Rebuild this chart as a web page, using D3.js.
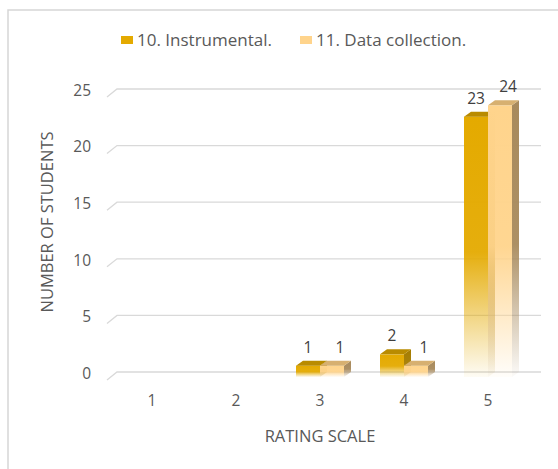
<!DOCTYPE html>
<html>
<head>
<meta charset="utf-8">
<script src="https://cdn.jsdelivr.net/npm/d3@7"></script>
<style>
  html, body { margin: 0; padding: 0; background: #fff; }
  svg { display: block; font-family: "Open Sans", sans-serif; }
</style>
</head>
<body>
<svg width="558" height="469"></svg>
<script>
// données du graphique
const categories = ["1", "2", "3", "4", "5"];
const instrumental = [0, 0, 1, 2, 23];
const dataCollection = [0, 0, 1, 1, 24];
const seriesNames = ["10. Instrumental.", "11. Data collection."];
const yTicks = [0, 5, 10, 15, 20, 25];

const svg = d3.select("svg");
const textColor = "#595959";

// couleurs : face avant, dessus, côté
const palette = [
  { front: "#E4AA00", top: "#B98B00", side: "#A57C00" },
  { front: "#FFD48C", top: "#D7B070", side: "#A88A5C" }
];

// cadre
svg.append("rect")
  .attr("x", 8).attr("y", 10)
  .attr("width", 600).attr("height", 500)
  .attr("fill", "none")
  .attr("stroke", "#d6d6d6")
  .attr("stroke-width", 1.5);

const x = d3.scaleBand().domain(categories).range([110, 530]).padding(0);
const y = d3.scaleLinear().domain([0, 25]).range([372, 89]);

const depth = { dx: 7, dy: 5 };     // profondeur des barres
const floor = { dx: 10, dy: 8 };    // profondeur du sol

// dégradés
const defs = svg.append("defs");
palette.forEach((p, i) => {
  [["front", p.front], ["side", p.side]].forEach(([k, c]) => {
    const g = defs.append("linearGradient")
      .attr("id", `g${i}${k}`)
      .attr("x1", 0).attr("y1", 0).attr("x2", 0).attr("y2", 1);
    g.append("stop").attr("offset", "0").attr("stop-color", c).attr("stop-opacity", 1);
    g.append("stop").attr("offset", "0.52").attr("stop-color", c).attr("stop-opacity", 0.95);
    g.append("stop").attr("offset", "1").attr("stop-color", c).attr("stop-opacity", 0.04);
  });
});

// grille
const grid = svg.append("g");
yTicks.forEach(t => {
  grid.append("path")
    .attr("d", `M${117 - floor.dx},${y(t) + floor.dy} L${117},${y(t)} L${541},${y(t)}`)
    .attr("fill", "none")
    .attr("stroke", "#d9d9d9")
    .attr("stroke-width", 1.3);
});

// axe Y
const yAxis = svg.append("g")
  .attr("transform", "translate(91,0)")
  .call(d3.axisLeft(y).tickValues(yTicks).tickSize(0).tickPadding(0));
yAxis.select(".domain").remove();
yAxis.selectAll("text")
  .attr("fill", textColor)
  .style("font-size", "15.5px")
  .style("font-family", "'Open Sans', sans-serif")
  .attr("dy", "0.4em");

// axe X
const xAxis = svg.append("g")
  .attr("transform", "translate(0,395)")
  .call(d3.axisBottom(x).tickSize(0).tickPadding(0));
xAxis.select(".domain").remove();
xAxis.selectAll("text")
  .attr("fill", textColor)
  .style("font-size", "15.5px")
  .style("font-family", "'Open Sans', sans-serif")
  .attr("dy", "0.71em");

// titres d'axes
svg.append("text")
  .attr("x", 320).attr("y", 442)
  .attr("text-anchor", "middle")
  .attr("fill", textColor)
  .style("font-size", "16.5px")
  .text("RATING SCALE");

svg.append("text")
  .attr("transform", "translate(53,222) rotate(-90)")
  .attr("text-anchor", "middle")
  .attr("fill", textColor)
  .style("font-size", "16.5px")
  .text("NUMBER OF STUDENTS");

// barres 3D
const barW = 24;
const allSeries = [instrumental, dataCollection];
const bars = svg.append("g");

allSeries.forEach((values, si) => {
  const p = palette[si];
  values.forEach((v, ci) => {
    if (v <= 0) return;
    const cx = x(categories[ci]) + x.bandwidth() / 2;
    const fx0 = cx - barW + si * barW;       // face avant gauche
    const fx1 = fx0 + barW;
    const fyTop = y(v) + depth.dy;
    const fyBot = y(0) + depth.dy;
    const bx1 = fx1 + depth.dx;
    const byTop = y(v);
    const byBot = y(0);

    // côté
    bars.append("path")
      .attr("d", `M${fx1},${fyTop} L${bx1},${byTop} L${bx1},${byBot} L${fx1},${fyBot} Z`)
      .attr("fill", `url(#g${si}side)`);
    // face avant
    bars.append("rect")
      .attr("x", fx0).attr("y", fyTop)
      .attr("width", barW).attr("height", fyBot - fyTop)
      .attr("fill", `url(#g${si}front)`);
    // dessus
    bars.append("path")
      .attr("d", `M${fx0},${fyTop} L${fx0 + depth.dx},${byTop} L${bx1},${byTop} L${fx1},${fyTop} Z`)
      .attr("fill", p.top);

    // étiquette
    bars.append("text")
      .attr("x", (fx0 + fx1) / 2 + (si === 1 ? 8 : 0))
      .attr("y", y(v) - 8)
      .attr("text-anchor", "middle")
      .attr("fill", "#404040")
      .style("font-size", "15.5px")
      .text(v);
  });
});

// légende
const legend = svg.append("g");
const legendX = [121, 300];
seriesNames.forEach((name, i) => {
  legend.append("rect")
    .attr("x", legendX[i]).attr("y", 36)
    .attr("width", 12).attr("height", 8)
    .attr("fill", palette[i].front);
  legend.append("text")
    .attr("x", legendX[i] + 16).attr("y", 46)
    .attr("fill", textColor)
    .style("font-size", "17px")
    .text(name);
});
</script>
</body>
</html>
